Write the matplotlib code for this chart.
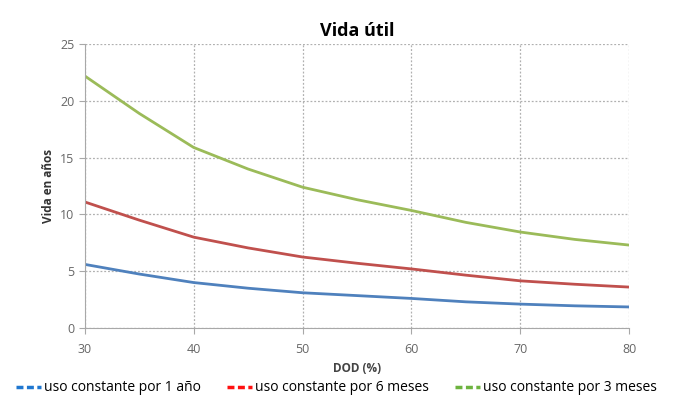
import matplotlib
matplotlib.use('Agg')
import matplotlib.pyplot as plt
from matplotlib.lines import Line2D

plt.rcParams['font.family'] = ['Open Sans', 'DejaVu Sans']

dod = [30, 35, 40, 45, 50, 55, 60, 65, 70, 75, 80]
vida_1_ano = [5.6, 4.75, 4.0, 3.5, 3.1, 2.85, 2.6, 2.3, 2.1, 1.95, 1.85]
vida_6_meses = [11.1, 9.5, 8.0, 7.05, 6.25, 5.7, 5.2, 4.65, 4.15, 3.85, 3.6]
vida_3_meses = [22.2, 18.9, 15.9, 14.0, 12.4, 11.3, 10.35, 9.3, 8.45, 7.8, 7.3]
labels = ['uso constante por 1 año', 'uso constante por 6 meses', 'uso constante por 3 meses']

line_colors = ['#4F81BD', '#C0504D', '#9BBB59']
legend_colors = ['#1F77D0', '#FF1010', '#6DB33F']

fig = plt.figure(figsize=(6.73, 3.98), dpi=100)
ax = fig.add_axes([0.126, 0.176, 0.809, 0.713])

for vals, c in zip([vida_1_ano, vida_6_meses, vida_3_meses], line_colors):
    ax.plot(dod, vals, color=c, lw=2)

ax.set_xlim(30, 80)
ax.set_ylim(0, 25)
ax.set_xticks(range(30, 81, 10))
ax.set_yticks(range(0, 26, 5))
ax.grid(True, linestyle=(0, (1.5, 1.5)), color='#B0B0B0', lw=0.9)
for s in ['top', 'right']:
    ax.spines[s].set_visible(False)
for s in ['left', 'bottom']:
    ax.spines[s].set_color('#A8A8A8')
ax.tick_params(colors='#A8A8A8', labelcolor='#666666', labelsize=9, length=4)
ax.tick_params(axis='x', pad=7)

ax.set_title('Vida útil', fontsize=13, fontweight='bold', pad=6)
ax.set_ylabel('Vida en años', fontsize=8.5, fontweight='bold', color='#333333')
ax.set_xlabel('DOD (%)', fontsize=8.5, fontweight='bold', color='#444444', labelpad=4)

handles = [Line2D([], [], color=c, lw=2.5, linestyle=(0, (2, 1))) for c in legend_colors]
fig.legend(handles, labels, loc='lower center', bbox_to_anchor=(0.5, -0.025), ncol=3,
           frameon=False, fontsize=10, handlelength=1.8, handletextpad=0.2,
           columnspacing=1.9)

plt.savefig('out.png', dpi=100)
